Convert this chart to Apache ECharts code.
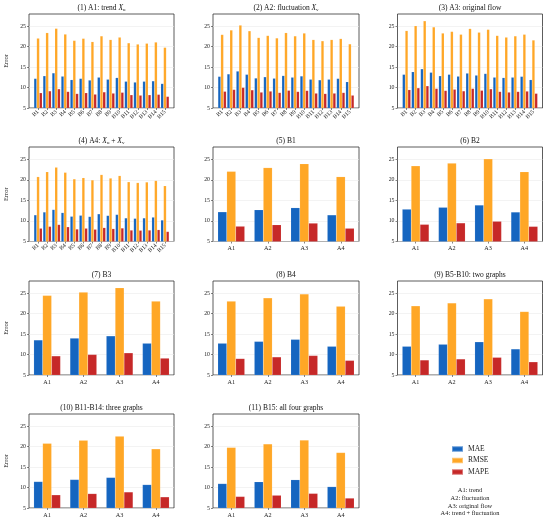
<!DOCTYPE html>
<html><head><meta charset="utf-8">
<script src="https://cdn.jsdelivr.net/npm/echarts@6/dist/echarts.min.js"></script>
<style>html,body{margin:0;padding:0;background:#fff}#c{width:550px;height:525px}</style>
</head><body><div id="c"></div>
<script>
// ---------- data ----------
const bLabels = ['B1','B2','B3','B4','B5','B6','B7','B8','B9','B10','B11','B12','B13','B14','B15'];
const aLabels = ['A1','A2','A3','A4'];
const metricNames = ['MAE','RMSE','MAPE'];
const yTicks = [5,10,15,20,25];

const a1MAE  = [12.2,12.85,13.55,12.75,11.9,12.2,11.8,12.5,12.0,12.4,11.5,11.3,11.5,11.6,10.95];
const a1RMSE = [22.05,23.4,24.45,23.05,21.5,22.0,21.2,22.6,21.7,22.3,20.9,20.6,20.8,21.1,19.8];
const a1MAPE = [8.7,9.15,9.65,9.0,8.5,8.7,8.35,8.9,8.6,8.8,8.2,8.1,8.2,8.3,7.8];

const a2MAE  = [12.7,13.3,14.0,13.2,12.3,12.6,12.25,12.9,12.5,12.8,12.0,11.85,12.0,12.2,11.4];
const a2RMSE = [22.95,24.05,25.25,23.85,22.2,22.7,22.1,23.4,22.6,23.3,21.7,21.4,21.7,21.95,20.65];
const a2MAPE = [9.05,9.5,10.0,9.4,8.85,9.1,8.75,9.3,9.0,9.25,8.6,8.5,8.6,8.75,8.1];

const a3MAE  = [13.2,13.85,14.55,13.7,12.85,13.2,12.75,13.5,13.0,13.4,12.5,12.4,12.5,12.7,11.9];
const a3RMSE = [23.9,25.1,26.3,24.8,23.3,23.7,23.0,24.4,23.5,24.2,22.7,22.3,22.6,23.0,21.6];
const a3MAPE = [9.45,9.9,10.4,9.75,9.25,9.55,9.15,9.75,9.3,9.65,9.0,8.85,9.0,9.1,8.55];

const a4MAE  = [11.45,12.15,12.75,12.0,11.1,11.35,11.05,11.7,11.3,11.55,10.7,10.6,10.7,10.9,10.2];
const a4RMSE = [20.75,21.95,23.05,21.8,20.2,20.5,19.95,21.25,20.4,21.0,19.5,19.3,19.45,19.8,18.55];
const a4MAPE = [8.2,8.65,9.1,8.55,8.0,8.2,7.95,8.35,8.1,8.25,7.75,7.7,7.75,7.85,7.4];

const b5to10MAE  = [12.0,12.5,13.1,11.35];
const b5to10RMSE = [21.9,22.6,23.6,20.5];
const b5to10MAPE = [8.65,8.9,9.3,8.2];

const b11to14MAE  = [11.45,11.95,12.45,10.7];
const b11to14RMSE = [20.8,21.55,22.55,19.45];
const b11to14MAPE = [8.2,8.5,8.9,7.7];

// ---------- build ----------
const F = 'Liberation Serif, Times New Roman, serif';
const colors = {MAE:'#1565C0', RMSE:'#FFA726', MAPE:'#C62828'};
const A = [[a1MAE,a1RMSE,a1MAPE],[a2MAE,a2RMSE,a2MAPE],[a3MAE,a3RMSE,a3MAPE],[a4MAE,a4RMSE,a4MAPE]];
function column(k){ return [0,1,2].map(m => A.map(s => s[m][k])); }

const colX = [[29,145],[213,146],[397.5,145]];
const rowY = [[14,94],[147,94.5],[281,94],[414,94]];

const panels = [
  {t:'(1) A1: trend {i|X}{s|u}', r:0,c:0, kind:'B', d:A[0]},
  {t:'(2) A2: fluctuation {i|X}{s|v}', r:0,c:1, kind:'B', d:A[1]},
  {t:'(3) A3: original flow', r:0,c:2, kind:'B', d:A[2]},
  {t:'(4) A4: {i|X}{s|u} + {i|X}{s|v}', r:1,c:0, kind:'B', d:A[3]},
  {t:'(5) B1', r:1,c:1, kind:'A', d:column(0)},
  {t:'(6) B2', r:1,c:2, kind:'A', d:column(1)},
  {t:'(7) B3', r:2,c:0, kind:'A', d:column(2)},
  {t:'(8) B4', r:2,c:1, kind:'A', d:column(3)},
  {t:'(9) B5-B10: two graphs', r:2,c:2, kind:'A', d:[b5to10MAE,b5to10RMSE,b5to10MAPE]},
  {t:'(10) B11-B14: three graphs', r:3,c:0, kind:'A', d:[b11to14MAE,b11to14RMSE,b11to14MAPE]},
  {t:'(11) B15: all four graphs', r:3,c:1, kind:'A', d:column(14)}
];

const grid=[], xAxis=[], yAxis=[], series=[], title=[];
panels.forEach((p,i)=>{
  const [gl,gw] = colX[p.c], [gt,gh] = rowY[p.r];
  grid.push({left:gl, top:gt, width:gw, height:gh, show:true, borderColor:'#333', borderWidth:0.8, backgroundColor:'transparent'});
  title.push({text:p.t, left:gl+gw/2, top:gt-10.5, textAlign:'center', padding:0,
    textStyle:{fontSize:7.5, fontFamily:F, fontWeight:'normal', color:'#111', lineHeight:9,
      rich:{i:{fontSize:7.5, fontFamily:F, fontStyle:'italic', color:'#111'}, s:{fontSize:5, fontFamily:F, color:'#111', verticalAlign:'bottom', lineHeight:8}}}});
  const tickStyle = {color:'#333', width:0.6};
  if (p.kind==='B'){
    xAxis.push({type:'category', gridIndex:i, data:['',...bLabels,''], boundaryGap:false,
      axisLine:{show:false},
      axisTick:{show:true, length:2, interval:(idx,v)=>v!=='', lineStyle:tickStyle},
      axisLabel:{interval:(idx,v)=>v!=='', rotate:45, fontSize:5.8, margin:3, color:'#222', fontFamily:F},
      splitLine:{show:false}});
  } else {
    xAxis.push({type:'category', gridIndex:i, data:aLabels, boundaryGap:true,
      axisLine:{show:false},
      axisTick:{show:true, length:2, alignWithLabel:true, lineStyle:tickStyle},
      axisLabel:{fontSize:6.2, margin:4, color:'#222', fontFamily:F},
      splitLine:{show:false}});
  }
  yAxis.push({type:'value', gridIndex:i, min:5, max:28, interval:5,
    axisLine:{show:false},
    axisTick:{show:true, length:2, customValues:yTicks, lineStyle:tickStyle},
    axisLabel:{fontSize:5.8, margin:3, color:'#222', fontFamily:F, customValues:yTicks},
    splitLine:{show:true, lineStyle:{color:'#ebebeb', width:0.6}},
    name: p.c===0 ? 'Error' : '', nameLocation:'middle', nameGap:19,
    nameTextStyle:{fontSize:6.5, fontFamily:F, color:'#222'}});
  metricNames.forEach((m,k)=>{
    const vals = p.d[k];
    series.push({type:'bar', name:m, xAxisIndex:i, yAxisIndex:i,
      data: p.kind==='B' ? ['-',...vals,'-'] : vals,
      barWidth: p.kind==='B' ? '30%' : '24.5%', barGap:'0%', clip:true, silent:true,
      itemStyle:{color:colors[m], borderColor:'rgba(255,255,255,0.35)', borderWidth:0.3}});
  });
});

const option = {
  animation:false, backgroundColor:'#fff',
  title, grid, xAxis, yAxis, series,
  legend:{data:metricNames, orient:'vertical', left:451, top:444.5, itemWidth:11, itemHeight:5.5, itemGap:2.5,
    icon:'rect', selectedMode:false, padding:0,
    textStyle:{fontSize:7.5, fontFamily:F, color:'#222', lineHeight:9}},
  graphic:[{type:'text', x:470, y:486.5, silent:true,
    style:{text:'A1: trend\nA2: fluctuation\nA3: original flow\nA4: trend + fluctuation',
      fill:'#222', font:'6.4px Liberation Serif', textAlign:'center', textVerticalAlign:'top', lineHeight:7.8}}]
};
const chart = echarts.init(document.getElementById('c'), null, {renderer:'canvas'});
chart.setOption(option);
</script></body></html>
